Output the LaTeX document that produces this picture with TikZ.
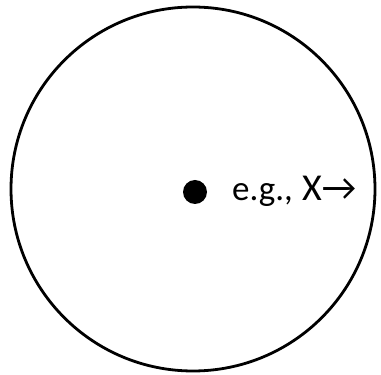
\documentclass[tikz,border=0pt]{standalone}
\usepackage{fontspec}
\setmainfont{Carlito}
\begin{document}
\begin{tikzpicture}[x=1pt,y=1pt,
  ring/.style={draw=black,line width=2.8pt},
  blob/.style={circle,fill=black,inner sep=0pt,minimum size=24pt},
  lbl/.style={inner sep=0pt,anchor=base west}]
\useasboundingbox (0,0) rectangle (381,375);
\node[circle,draw=none,minimum size=364pt,inner sep=0pt] (c) at (193,186) {};
\draw[ring] (c.center) circle (182);
\node[blob] (dot) at (195,183) {};
\node[lbl,font=\fontsize{35}{40}\selectfont] (eg) at (232,174) {e.g.,};
\node[lbl,font=\fontsize{38}{42}\selectfont] (x) at (302,174) {X→};
\end{tikzpicture}
\end{document}
